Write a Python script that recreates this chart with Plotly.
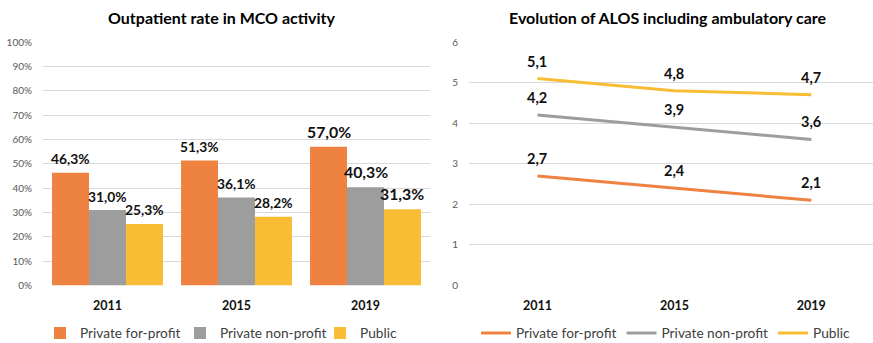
import plotly.graph_objects as go

# Categories and series
years = ["2011", "2015", "2019"]
sectors = ["Private for-profit", "Private non-profit", "Public"]

# Outpatient rate in MCO activity (%)
outpatient_for_profit = [46.3, 51.3, 57.0]
outpatient_non_profit = [31.0, 36.1, 40.3]
outpatient_public = [25.3, 28.2, 31.3]

# Average length of stay including ambulatory care (days)
alos_for_profit = [2.7, 2.4, 2.1]
alos_non_profit = [4.2, 3.9, 3.6]
alos_public = [5.1, 4.8, 4.7]

pct_ticks = [0, 10, 20, 30, 40, 50, 60, 70, 80, 90, 100]
pct_tick_labels = ["0%", "10%", "20%", "30%", "40%", "50%", "60%", "70%", "80%", "90%", "100%"]
alos_ticks = [0, 1, 2, 3, 4, 5, 6]

colors = ["#EE8241", "#9D9D9D", "#F9BD35"]
FONT = "Lato"
W, H = 873, 343


def fmt(v, suffix=""):
    return f"{v:.1f}".replace(".", ",") + suffix


# plot areas in pixels -> paper fractions
left_x = [43 / W, 430 / W]
right_x = [469 / W, 1.0]
plot_y = [1 - 285.5 / H, 1 - 42 / H]

BARGAP = 0.14
bar_w = (1 - BARGAP) / 3

fig = go.Figure()

bar_series = [outpatient_for_profit, outpatient_non_profit, outpatient_public]
for name, vals, col in zip(sectors, bar_series, colors):
    fig.add_trace(go.Bar(x=years, y=vals, name=name, marker=dict(color=col, line=dict(width=0)),
                         xaxis="x", yaxis="y", legend="legend"))

line_series = [alos_for_profit, alos_non_profit, alos_public]
for name, vals, col in zip(sectors, line_series, colors):
    fig.add_trace(go.Scatter(x=years, y=vals, name=name, mode="lines",
                             line=dict(color=col, width=3),
                             xaxis="x2", yaxis="y2", legend="legend2"))

annotations = []
# bar value labels (the latest year is printed larger)
for j, vals in enumerate(bar_series):
    for i, v in enumerate(vals):
        big = i == 2
        annotations.append(dict(
            xref="x", yref="y", x=i + (j - 1) * bar_w, y=v, text=fmt(v, "%"),
            showarrow=False, yanchor="middle", yshift=15.5 if big else 14,
            font=dict(family=FONT, size=15.8 if big else 13.8, color="#111111", weight="bold")))
# line value labels
for vals in line_series:
    for i, v in enumerate(vals):
        annotations.append(dict(
            xref="x2", yref="y2", x=i, y=v, text=fmt(v),
            showarrow=False, yanchor="middle", yshift=17.5,
            font=dict(family=FONT, size=14.5, color="#111111", weight="bold")))
# panel titles
for txt, cx in [("Outpatient rate in MCO activity", 222), ("Evolution of ALOS including ambulatory care", 668)]:
    annotations.append(dict(
        xref="paper", yref="paper", x=cx / W, y=1 - 17 / H, text=txt, showarrow=False,
        xanchor="center", yanchor="middle",
        font=dict(family=FONT, size=16, color="#000000", weight="bold")))

grid = "#D9D9D9"
xtickfont = dict(family=FONT, size=12.5, color="#111111", weight="bold")
ytickfont = dict(family=FONT, size=10, color="#595959")
legfont = dict(family=FONT, size=13.7, color="#404040")

fig.update_layout(
    template="none",
    width=W, height=H,
    margin=dict(l=0, r=0, t=0, b=0, autoexpand=False),
    paper_bgcolor="white", plot_bgcolor="white",
    barmode="group", bargap=BARGAP, bargroupgap=0,
    xaxis=dict(domain=left_x, type="category", showgrid=False, showline=False, zeroline=False,
               ticks="", tickfont=xtickfont, ticklabelstandoff=11, anchor="y"),
    yaxis=dict(domain=plot_y, range=[0, 100], tickvals=pct_ticks, ticktext=pct_tick_labels,
               showgrid=True, gridcolor=grid, gridwidth=1, zeroline=False, showline=False,
               ticks="", tickfont=ytickfont, ticklabelstandoff=10, anchor="x"),
    xaxis2=dict(domain=right_x, type="category", range=[-0.5, 2.45], showgrid=False, showline=False,
                zeroline=False, ticks="", tickfont=xtickfont, ticklabelstandoff=11, anchor="y2"),
    yaxis2=dict(domain=plot_y, range=[0, 6], tickvals=alos_ticks,
                showgrid=True, gridcolor=grid, gridwidth=1, zeroline=False, showline=False,
                ticks="", tickfont=ytickfont, ticklabelstandoff=10, anchor="x2"),
    legend=dict(orientation="h", x=40 / W, xanchor="left", y=10 / H, yanchor="middle",
                entrywidth=95, font=legfont, bgcolor="rgba(0,0,0,0)"),
    legend2=dict(orientation="h", x=666 / W, xanchor="center", y=10 / H, yanchor="middle",
                 font=legfont, bgcolor="rgba(0,0,0,0)"),
    annotations=annotations,
    showlegend=True,
)

fig.write_html("out.html")
